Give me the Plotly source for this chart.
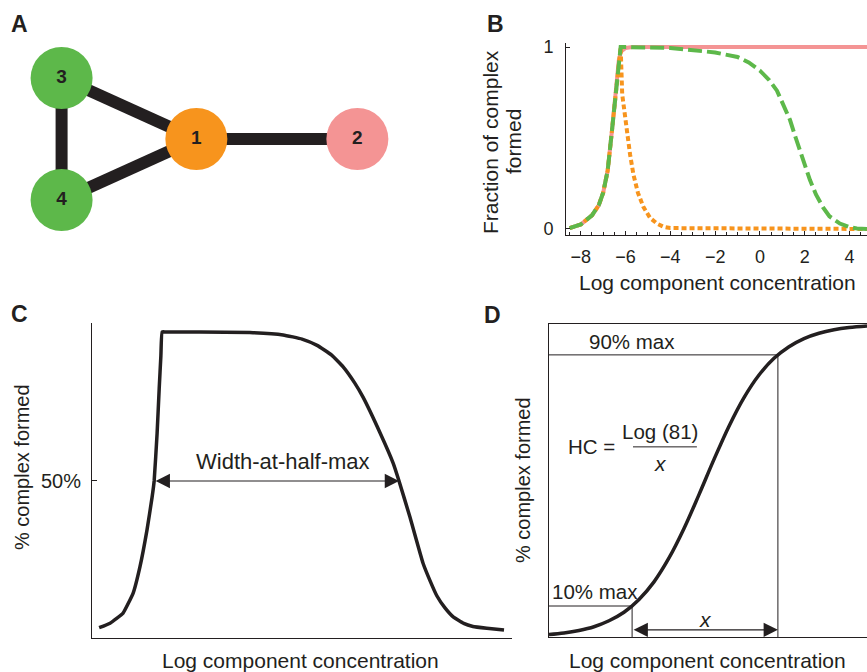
import plotly.graph_objects as go

W, H = 867, 672
FONT = "Liberation Sans, Arial, Helvetica, sans-serif"
INK = "#231F20"
GREEN = "#5DB84A"
ORANGE = "#F7941D"
PINK = "#F49494"

# ---------------- Panel A: network ----------------
node_ids = [1, 2, 3, 4]
node_x = [2.21, 4.85, 0.0, 0.0]
node_y = [0.0, 0.0, 1.0, -1.0]
node_colors = [ORANGE, PINK, GREEN, GREEN]
edges = [(1, 2), (1, 3), (1, 4), (3, 4)]

# ---------------- Panel B ----------------
b_pink_x = [-8.5, -8.0, -7.5, -7.2, -7.0, -6.8, -6.6, -6.45, -6.3, -6.2, -6.0, -5.7, 4.8]
b_pink_y = [0.005, 0.025, 0.075, 0.13, 0.2, 0.32, 0.55, 0.75, 0.93, 0.975, 0.995, 1.0, 1.0]

b_orange_x = [-8.5, -8.0, -7.5, -7.2, -7.0, -6.8, -6.6, -6.45, -6.3, -6.22, -6.15, -5.95,
              -5.8, -5.65, -5.45, -5.2, -4.9, -4.6, -4.3, -4.0, 4.8]
b_orange_y = [0.005, 0.025, 0.075, 0.13, 0.2, 0.32, 0.55, 0.75, 0.95, 1.0, 0.74, 0.53,
              0.41, 0.30, 0.20, 0.12, 0.06, 0.03, 0.012, 0.005, 0.0]

b_green_x = [-8.5, -8.0, -7.5, -7.2, -7.0, -6.8, -6.6, -6.45, -6.3, -6.22, -4.0, -3.0, -2.0,
             -1.0, -0.5, 0.0, 0.4, 0.76, 1.1, 1.34, 1.6, 1.79, 2.0, 2.23, 2.5, 2.81, 3.1,
             3.57, 4.0, 4.33, 4.8]
b_green_y = [0.005, 0.025, 0.075, 0.13, 0.2, 0.32, 0.55, 0.75, 0.95, 1.0, 0.995, 0.985, 0.97,
             0.945, 0.915, 0.87, 0.82, 0.76, 0.67, 0.60, 0.50, 0.43, 0.35, 0.27, 0.19, 0.12, 0.07,
             0.03, 0.01, 0.003, 0.0]
b_xticks = [-8, -6, -4, -2, 0, 2, 4]
b_yticks = [0, 1]

# ---------------- Panel C ----------------
c_x = [0.17, 0.43, 0.74, 0.98, 1.14, 1.31, 1.43, 1.48, 1.55, 1.60, 1.64, 1.67, 1.75, 2.57,
       3.76, 4.55, 5.0, 5.36, 5.7, 5.98, 6.25, 6.45, 6.86, 7.17, 7.31, 7.57, 7.88, 8.05,
       8.21, 8.40, 8.60, 8.85, 9.07, 9.4, 9.81]
c_y = [0.8, 2.3, 5.7, 12.4, 21.1, 33.6, 44.5, 50.0, 66.0, 81.0, 92.0, 100.0, 100.0, 100.0,
       99.8, 99.0, 97.6, 95.5, 92.3, 88.3, 83.0, 78.2, 66.1, 56.0, 50.0, 37.9, 22.5, 16.5,
       11.5, 7.5, 4.4, 2.2, 1.2, 0.6, 0.0]
c_half_left, c_half_right, c_half = 1.48, 7.31, 50

# ---------------- Panel D ----------------
d_x = [0.0, 0.5, 1.0, 1.5, 2.0, 2.5, 3.0, 3.5, 4.0, 4.5, 5.0, 5.5, 6.0, 6.5, 7.0, 7.5,
       8.0, 8.5, 9.0, 9.5, 10.0, 10.6]
d_y = [0.9, 1.4, 2.2, 3.4, 5.3, 8.0, 12.1, 17.7, 25.3, 34.7, 45.5, 56.7, 67.3, 76.4, 83.6,
       88.9, 92.6, 95.2, 96.9, 98.0, 98.7, 99.2]
d_x10, d_x90 = 2.77, 7.63
d_lo, d_hi = 10, 90


def dom_x(a, b):
    return [a / W, b / W]


def dom_y(top, bottom):
    return [1 - bottom / H, 1 - top / H]


fig = go.Figure()

# Panel A traces
pos = {n: (x, y) for n, x, y in zip(node_ids, node_x, node_y)}
ex, ey = [], []
for a, b in edges:
    ex += [pos[a][0], pos[b][0], None]
    ey += [pos[a][1], pos[b][1], None]
fig.add_trace(go.Scatter(x=ex, y=ey, mode="lines", line=dict(color=INK, width=12),
                         xaxis="x", yaxis="y", hoverinfo="skip"))
fig.add_trace(go.Scatter(x=node_x, y=node_y, mode="markers+text",
                         text=[str(n) for n in node_ids], textposition="middle center",
                         textfont=dict(family=FONT, size=19, color=INK, weight="bold"),
                         marker=dict(size=62, color=node_colors, line=dict(width=0)),
                         xaxis="x", yaxis="y"))

# Panel B traces
fig.add_trace(go.Scatter(x=b_pink_x, y=b_pink_y, mode="lines",
                         line=dict(color=PINK, width=4), xaxis="x2", yaxis="y2"))
fig.add_trace(go.Scatter(x=b_orange_x, y=b_orange_y, mode="lines",
                         line=dict(color=ORANGE, width=4, dash="5px,3px"), xaxis="x2", yaxis="y2"))
fig.add_trace(go.Scatter(x=b_green_x, y=b_green_y, mode="lines",
                         line=dict(color=GREEN, width=4, dash="14px,5px"), xaxis="x2", yaxis="y2"))

# Panel C
fig.add_trace(go.Scatter(x=c_x, y=c_y, mode="lines",
                         line=dict(color=INK, width=3.5, shape="spline", smoothing=0.35),
                         xaxis="x3", yaxis="y3"))

# Panel D
fig.add_trace(go.Scatter(x=d_x, y=d_y, mode="lines", line=dict(color=INK, width=3.5, shape="spline"),
                         xaxis="x4", yaxis="y4"))
fig.add_trace(go.Scatter(x=[0, d_x90, d_x90, None, 0, d_x10, d_x10],
                         y=[d_hi, d_hi, 0, None, d_lo, d_lo, 0], mode="lines",
                         line=dict(color=INK, width=1), xaxis="x4", yaxis="y4"))
fig.add_trace(go.Scatter(x=[2.8, 4.93], y=[60.7, 60.7], mode="lines",
                         line=dict(color=INK, width=1), xaxis="x4", yaxis="y4"))

hidden = dict(visible=False, showgrid=False, zeroline=False)
axline = dict(showline=True, linecolor=INK, linewidth=1, showgrid=False, zeroline=False)

fig.update_layout(
    width=W, height=H, margin=dict(l=0, r=0, t=0, b=0, autoexpand=False),
    paper_bgcolor="white", plot_bgcolor="white", showlegend=False,
    font=dict(family=FONT, color=INK),
    xaxis=dict(domain=dom_x(25, 397), range=[-0.6, 5.5], anchor="y", **hidden),
    yaxis=dict(domain=dom_y(30, 250), range=[-1.82, 1.787], anchor="x", **hidden),
    xaxis2=dict(domain=dom_x(566, 867), range=[-8.66, 4.78], anchor="y2",
                tickvals=b_xticks, ticks="inside", ticklen=4, tickcolor=INK,
                minor=dict(dtick=0.5, ticks="inside", ticklen=3, tickcolor=INK),
                tickfont=dict(size=18, color=INK), ticklabelstandoff=5, **axline),
    yaxis2=dict(domain=dom_y(43, 235), range=[-0.033, 1.022], anchor="x2",
                tickvals=b_yticks, ticks="inside", ticklen=4, tickcolor=INK,
                tickfont=dict(size=18, color=INK), ticklabelstandoff=8, **axline),
    xaxis3=dict(domain=dom_x(92, 512), range=[0, 10], anchor="y3", showticklabels=False, **axline),
    yaxis3=dict(domain=dom_y(323, 638), range=[-2.68, 103.0], anchor="x3",
                tickvals=[c_half], ticktext=["50%"], ticks="inside", ticklen=5, tickcolor=INK,
                tickfont=dict(size=20, color=INK), ticklabelstandoff=6, **axline),
    xaxis4=dict(domain=dom_x(549, 867), range=[0, 10.6], anchor="y4", mirror=True,
                showticklabels=False, **axline),
    yaxis4=dict(domain=dom_y(323.5, 637.4), range=[0, 100], anchor="x4",
                showticklabels=False, **axline),
)

ann = []


def paper_text(text, px, py, size, bold=False, angle=0, xanchor="center"):
    ann.append(dict(text=f"<b>{text}</b>" if bold else text, x=px / W, y=1 - py / H,
                    xref="paper", yref="paper", showarrow=False, textangle=angle,
                    xanchor=xanchor, yanchor="middle",
                    font=dict(family=FONT, size=size, color=INK)))


paper_text("A", 19, 24, 23, bold=True)
paper_text("B", 495, 24, 23, bold=True)
paper_text("C", 19, 314, 23, bold=True)
paper_text("D", 492, 315, 23, bold=True)

paper_text("Fraction of complex", 490, 142, 21, angle=-90)
paper_text("formed", 513, 142, 21, angle=-90)
paper_text("Log component concentration", 717, 282, 21)
paper_text("% complex formed", 22, 467, 20, angle=-90)
paper_text("Log component concentration", 300, 660, 21)
paper_text("% complex formed", 523, 480, 20, angle=-90)
paper_text("Log component concentration", 707, 660, 21)

# C arrow & label
ann.append(dict(x=c_half_right, y=c_half, ax=c_half_left, ay=c_half, xref="x3", yref="y3",
                axref="x3", ayref="y3", text="", showarrow=True, arrowside="end+start",
                arrowhead=2, startarrowhead=2, arrowsize=2.6, startarrowsize=2.6,
                arrowwidth=1.1, arrowcolor=INK))
ann.append(dict(x=4.55, y=56.4, xref="x3", yref="y3", text="Width-at-half-max", showarrow=False,
                font=dict(family=FONT, size=22, color=INK)))

# D annotations
ann.append(dict(x=d_x90, y=2.4, ax=d_x10, ay=2.4, xref="x4", yref="y4", axref="x4", ayref="y4",
                text="", showarrow=True, arrowside="end+start", arrowhead=2, startarrowhead=2,
                arrowsize=2.6, startarrowsize=2.6, arrowwidth=1.1, arrowcolor=INK))
for txt, x, y, size, xa in [("<i>x</i>", 5.2, 5.8, 21, "center"),
                            ("90% max", 2.77, 94.2, 20.5, "center"),
                            ("10% max", 0.03, 14.5, 20.5, "left"),
                            ("HC =", 1.4, 60.7, 20.5, "center"),
                            ("Log (81)", 3.7, 65.6, 20.5, "center"),
                            ("<i>x</i>", 3.7, 55.4, 21, "center")]:
    ann.append(dict(x=x, y=y, xref="x4", yref="y4", text=txt, showarrow=False, xanchor=xa,
                    font=dict(family=FONT, size=size, color=INK)))

fig.update_layout(annotations=ann)
fig.write_html("out.html", config={"displayModeBar": False},
               post_script="document.body.style.margin='0';document.body.style.overflow='hidden';")
